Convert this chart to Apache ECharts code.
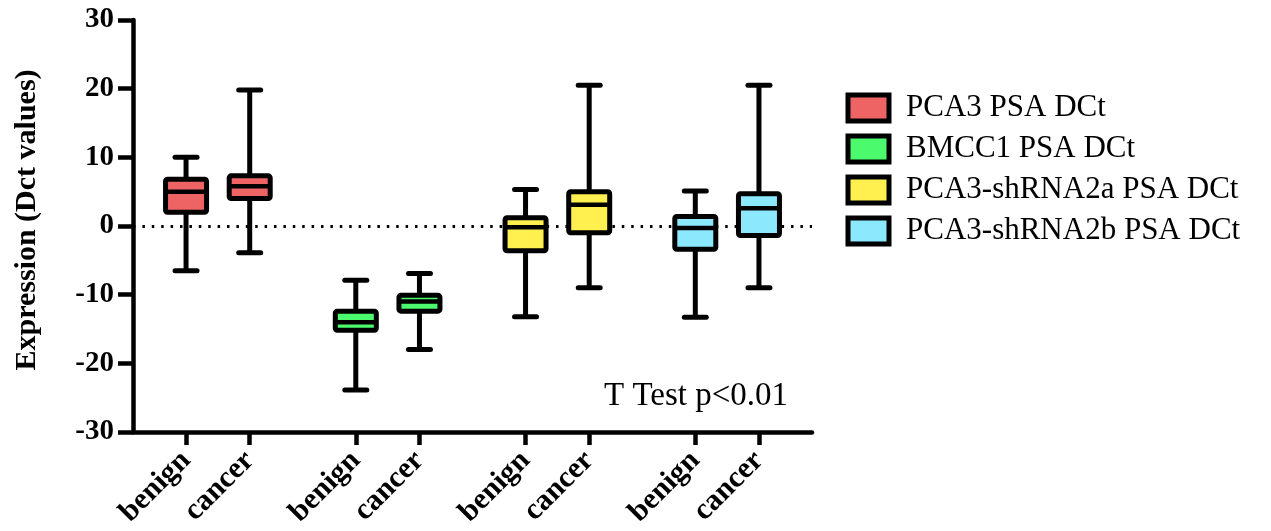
<!DOCTYPE html>
<html>
<head>
<meta charset="utf-8">
<script src="https://cdn.jsdelivr.net/npm/echarts@6/dist/echarts.min.js"></script>
<style>
html,body{margin:0;padding:0;background:#fff;}
#chart{width:1271px;height:531px;}
</style>
</head>
<body>
<div id="chart"></div>
<script>
// ---- data ----
const groupLabels = ['benign', 'cancer'];
const seriesNames = ['PCA3 PSA DCt', 'BMCC1 PSA DCt', 'PCA3-shRNA2a PSA DCt', 'PCA3-shRNA2b PSA DCt'];
const seriesColors = ['#EE6464', '#4CFA6E', '#FFF050', '#8CE8FC'];
// each box: [min, Q1, median, Q3, max]  (benign, cancer)
const pca3 = [[-6.5, 2.0, 5.0, 6.8, 10.0], [-3.9, 4.0, 5.8, 7.3, 19.8]];
const bmcc1 = [[-23.9, -15.2, -14.0, -12.4, -7.9], [-18.0, -12.4, -11.0, -10.1, -6.9]];
const shRNA2a = [[-13.2, -3.6, -0.2, 1.2, 5.3], [-9.0, -1.0, 3.1, 5.0, 20.5]];
const shRNA2b = [[-13.3, -3.4, -0.3, 1.4, 5.1], [-9.0, -1.4, 2.6, 4.7, 20.5]];
const yTicks = [-30, -20, -10, 0, 10, 20, 30];
const yName = 'Expression (Dct values)';
const noteText = 'T Test p<0.01';

// ---- layout of category slots ----
const slotCount = 32;
const slotStarts = [2, 10, 18, 26];   // benign slot of each group
const pairStep = 3;                    // cancer slot offset
const categories = new Array(slotCount).fill('');
slotStarts.forEach(s => { categories[s] = groupLabels[0]; categories[s + pairStep] = groupLabels[1]; });

const allBoxes = [pca3, bmcc1, shRNA2a, shRNA2b];
const FONT = 'Liberation Serif';

function renderItem(params, api) {
  const x = api.value(0);
  const pMin = api.coord([x, api.value(1)]);
  const pQ1 = api.coord([x, api.value(2)]);
  const pMed = api.coord([x, api.value(3)]);
  const pQ3 = api.coord([x, api.value(4)]);
  const pMax = api.coord([x, api.value(5)]);
  const cx = pMin[0];
  const hw = 20.5, cw = 11, lw = 5;
  const color = api.visual('color');
  const blk = '#000';
  return {
    type: 'group',
    children: [
      { type: 'line', shape: { x1: cx, y1: pMax[1], x2: cx, y2: pMin[1] }, style: { stroke: blk, lineWidth: lw } },
      { type: 'line', shape: { x1: cx - cw, y1: pMax[1], x2: cx + cw, y2: pMax[1] }, style: { stroke: blk, lineWidth: lw, lineCap: 'round' } },
      { type: 'line', shape: { x1: cx - cw, y1: pMin[1], x2: cx + cw, y2: pMin[1] }, style: { stroke: blk, lineWidth: lw, lineCap: 'round' } },
      { type: 'rect', shape: { x: cx - hw, y: pQ3[1], width: 2 * hw, height: pQ1[1] - pQ3[1], r: 2 }, style: { fill: color, stroke: blk, lineWidth: lw } },
      { type: 'line', shape: { x1: cx - hw, y1: pMed[1], x2: cx + hw, y2: pMed[1] }, style: { stroke: blk, lineWidth: 4.5 } }
    ]
  };
}

const series = [{
  type: 'line', data: [], z: 1, silent: true,
  markLine: {
    z: 1,
    silent: true, symbol: 'none', animation: false,
    label: { show: false },
    lineStyle: { color: '#000', width: 3, type: [2.5, 6.9] },
    data: [{ yAxis: 0 }]
  }
}];
allBoxes.forEach((boxes, i) => {
  series.push({
    name: seriesNames[i],
    type: 'custom',
    z: 10,
    renderItem: renderItem,
    itemStyle: { color: seriesColors[i] },
    encode: { x: 0, y: [1, 2, 3, 4, 5] },
    data: boxes.map((b, j) => [slotStarts[i] + j * pairStep].concat(b))
  });
});

const chart = echarts.init(document.getElementById('chart'));
chart.setOption({
  animation: false,
  backgroundColor: '#fff',
  grid: { left: 133, right: 459, top: 20, bottom: 99 },
  legend: {
    orient: 'vertical',
    left: 845.5, top: 92.5, padding: 0,
    itemWidth: 41, itemHeight: 26, itemGap: 10,
    icon: 'rect',
    selectedMode: false,
    textStyle: { fontFamily: FONT, fontSize: 31, color: '#000', padding: [0, 0, 0, 12], lineHeight: 31 },
    data: seriesNames.map((n, i) => ({ name: n, icon: 'rect', itemStyle: { color: seriesColors[i], borderColor: '#000', borderWidth: 5 } }))
  },
  xAxis: {
    type: 'category',
    data: categories,
    boundaryGap: true,
    axisLine: { onZero: false, lineStyle: { color: '#000', width: 4.5 } },
    axisTick: { show: true, alignWithLabel: true, length: 13, lineStyle: { color: '#000', width: 4.5 }, interval: (idx, val) => val !== '' },
    axisLabel: { interval: (idx, val) => val !== '', rotate: 45, margin: 24, fontFamily: FONT, fontWeight: 'bold', fontSize: 30, color: '#000' },
    splitLine: { show: false }
  },
  yAxis: {
    type: 'value',
    min: yTicks[0], max: yTicks[yTicks.length - 1], interval: 10,
    name: yName,
    nameLocation: 'middle',
    nameGap: 91,
    nameTextStyle: { fontFamily: FONT, fontWeight: 'bold', fontSize: 30, color: '#000', padding: [0, 0, 0, 12] },
    axisLine: { show: true, lineStyle: { color: '#000', width: 4.5 } },
    axisTick: { show: true, length: 15, lineStyle: { color: '#000', width: 4.5 } },
    axisLabel: { margin: 19, fontFamily: FONT, fontWeight: 'bold', fontSize: 29, color: '#000' },
    splitLine: { show: false }
  },
  graphic: [{
    type: 'text', right: 483, top: 380,
    style: { text: noteText, font: '33px "Liberation Serif"', fill: '#000' }
  }],
  series: series
});
</script>
</body>
</html>
